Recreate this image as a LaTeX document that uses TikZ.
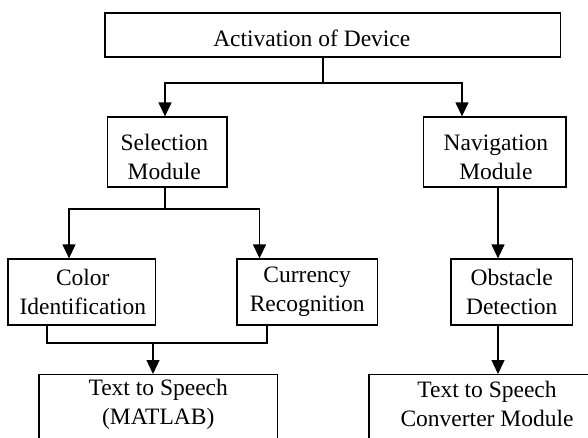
\documentclass[tikz,border=0pt]{standalone}
\usepackage{fontspec}
\setmainfont{Liberation Serif}
\usetikzlibrary{arrows.meta,calc}
\begin{document}
\begin{tikzpicture}[x=1pt,y=-1pt,
  box/.style={draw=black,line width=1.3pt,rectangle,inner sep=0pt},
  lbl/.style={inner sep=0pt,align=center,font=\fontsize{23.5}{29}\selectfont},
  conn/.style={line width=1.3pt,draw=black},
  arr/.style={conn,-{Triangle[width=13pt,length=14pt]}}]
\useasboundingbox (0,0) rectangle (588,437);
\clip (0,0) rectangle (588,437);
\fill[white] (0,0) rectangle (588,437);
% boxes
\node[box,minimum width=455.6pt,minimum height=44pt] (act) at (332.8,35) {};
\node[lbl] (actl) at ($(act.center)+(-21,3)$) {Activation of Device};
\node[box,minimum width=119.4pt,minimum height=70pt] (sel) at (167.3,152) {};
\node[lbl] (sell) at ($(sel.center)+(-3,5)$) {Selection\\Module};
\node[box,minimum width=142.3pt,minimum height=70pt] (nav) at (494.9,152) {};
\node[lbl] (navl) at ($(nav.center)+(1,5)$) {Navigation\\Module};
\node[box,minimum width=147.6pt,minimum height=66pt] (col) at (81.8,292) {};
\node[lbl] (coll) at ($(col.center)+(1,0)$) {Color\\Identification};
\node[box,minimum width=140.5pt,minimum height=66pt] (cur) at (307.2,292) {};
\node[lbl] (curl) at (cur.center) {Currency\\Recognition};
\node[box,minimum width=121.5pt,minimum height=66pt] (obs) at (511.7,292) {};
\node[lbl] (obsl) at (obs.center) {Obstacle\\Detection};
\node[box,minimum width=238.5pt,minimum height=90pt,anchor=north] (tts) at (158.2,374) {};
\node[lbl] (ttsl) at ($(tts.north)+(0,30)$) {Text to Speech\\(MATLAB)};
\node[box,minimum width=236pt,minimum height=90pt,anchor=north] (tcm) at (487,374) {};
\node[lbl] (tcml) at ($(tcm.north)+(0,30)$) {Text to Speech\\Converter Module};
% junction coordinates
\coordinate (j1) at (323,83);
\coordinate (selin) at (165,117);
\coordinate (navin) at (462,117);
\coordinate (j2) at (165,209);
\coordinate (colin) at (69,259);
\coordinate (curin) at (259.5,259);
\coordinate (colout) at (47,325);
\coordinate (curout) at (267,325);
\coordinate (j3) at (153,343);
\coordinate (navx) at (498,0);
% connectors
\draw[conn] (j1 |- act.south) -- (j1);
\draw[arr] (j1) -| (selin |- sel.north);
\draw[arr] (j1) -| (navin |- nav.north);
\draw[conn] (j2 |- sel.south) -- (j2);
\draw[arr] (j2) -| (colin |- col.north);
\draw[arr] (j2) -| (curin |- cur.north);
\draw[conn] (colout |- col.south) |- (j3) -| (curout |- cur.south);
\draw[arr] (j3) -- (j3 |- tts.north);
\draw[arr] (navx |- nav.south) -- (navx |- obs.north);
\draw[arr] (navx |- obs.south) -- (navx |- tcm.north);
\end{tikzpicture}
\end{document}
